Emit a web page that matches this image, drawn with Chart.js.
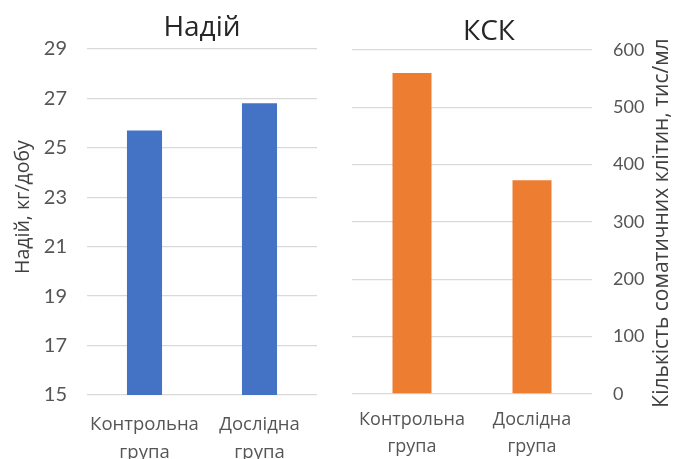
<!DOCTYPE html>
<html><head><meta charset="utf-8">
<script src="https://cdn.jsdelivr.net/npm/chart.js@4.4.1/dist/chart.umd.min.js"></script>
<style>
html,body{margin:0;padding:0;background:#fff;}
#wrap{position:relative;width:673px;height:459px;overflow:hidden;background:#fff;}
#c1{position:absolute;left:0;top:0;}
#c2{position:absolute;left:340px;top:0;}
</style></head><body>
<div id="wrap">
<canvas id="c1" width="340" height="459"></canvas>
<canvas id="c2" width="333" height="459"></canvas>
</div>
<script>
// ---- data ----
const categories = [['Контрольна', 'група'], ['Дослідна', 'група']];
const milkYield = [25.7, 26.8];          // Надій, кг/добу
const somaticCells = [560, 373];         // КСК, тис/мл
const milkTickRange = [15, 29, 2];       // min, max, step
const sccTickRange = [0, 600, 100];
const milkTitle = 'Надій';
const milkAxisTitle = 'Надій, кг/добу';
const sccTitle = 'КСК';
const sccAxisTitle = 'Кількість соматичних клітин, тис/мл';

const FONT_T = 'Lato, "Open Sans", sans-serif';
const FONT = '"Open Sans", Lato, sans-serif';
const GRID = '#d9d9d9';
const TICK = '#555555';

const textPlugin = {
  id: 'extraText',
  afterDraw(chart, args, opts) {
    const ctx = chart.ctx;
    (opts.items || []).forEach(it => {
      ctx.save();
      ctx.font = it.font;
      ctx.fillStyle = it.color;
      ctx.textAlign = 'center';
      ctx.textBaseline = 'middle';
      ctx.translate(it.x, it.y);
      if (it.rotate) ctx.rotate(it.rotate);
      ctx.fillText(it.text, 0, 0);
      ctx.restore();
    });
  }
};

function fixY(width) {
  return function (scale) { scale.width = width; scale.paddingTop = 0; scale.paddingBottom = 0; };
}
function fixX(height) {
  return function (scale) { scale.height = height; scale.paddingLeft = 0; scale.paddingRight = 0; };
}

new Chart(document.getElementById('c1'), {
  type: 'bar',
  data: { labels: categories, datasets: [{ data: milkYield, backgroundColor: '#4472C4', barPercentage: 0.305, categoryPercentage: 1 }] },
  options: {
    responsive: false, animation: false,
    layout: { padding: { top: 49, right: 23, left: 0, bottom: 0 } },
    plugins: {
      legend: { display: false }, tooltip: { enabled: false },
      extraText: { items: [
        { text: milkTitle, x: 202, y: 28, font: '28px ' + FONT, color: '#262626' },
        { text: milkAxisTitle, x: 23, y: 207, rotate: -Math.PI / 2, font: '19.5px ' + FONT, color: '#404040' }
      ] }
    },
    scales: {
      x: {
        grid: { display: false, drawTicks: false }, border: { display: false },
        ticks: { color: TICK, font: { family: FONT, size: 18.5, lineHeight: 1.52 }, padding: 16, maxRotation: 0 },
        afterFit: fixX(64)
      },
      y: {
        min: milkTickRange[0], max: milkTickRange[1],
        grid: { color: GRID, drawTicks: false, lineWidth: 1.3 }, border: { display: false },
        ticks: { stepSize: milkTickRange[2], color: TICK, font: { family: FONT_T, size: 20 }, padding: 20 },
        afterFit: fixY(87)
      }
    }
  },
  plugins: [textPlugin]
});

new Chart(document.getElementById('c2'), {
  type: 'bar',
  data: { labels: categories, datasets: [{ data: somaticCells, backgroundColor: '#ED7D31', barPercentage: 0.325, categoryPercentage: 1 }] },
  options: {
    responsive: false, animation: false,
    layout: { padding: { top: 50, right: 0, left: 12, bottom: 0 } },
    plugins: {
      legend: { display: false }, tooltip: { enabled: false },
      extraText: { items: [
        { text: sccTitle, x: 149, y: 32, font: '28px ' + FONT, color: '#262626' },
        { text: sccAxisTitle, x: 322, y: 223, rotate: -Math.PI / 2, font: '21px ' + FONT, color: '#404040' }
      ] }
    },
    scales: {
      x: {
        grid: { display: false, drawTicks: false }, border: { display: false },
        ticks: { color: TICK, font: { family: FONT, size: 18, lineHeight: 1.5 }, padding: 12, maxRotation: 0 },
        afterFit: fixX(65)
      },
      y: {
        position: 'right',
        min: sccTickRange[0], max: sccTickRange[1],
        grid: { color: GRID, drawTicks: false, lineWidth: 1.3 }, border: { display: false },
        ticks: { stepSize: sccTickRange[2], color: TICK, font: { family: FONT_T, size: 18 }, padding: 21 },
        afterFit: fixY(81)
      }
    }
  },
  plugins: [textPlugin]
});
</script>
</body></html>
